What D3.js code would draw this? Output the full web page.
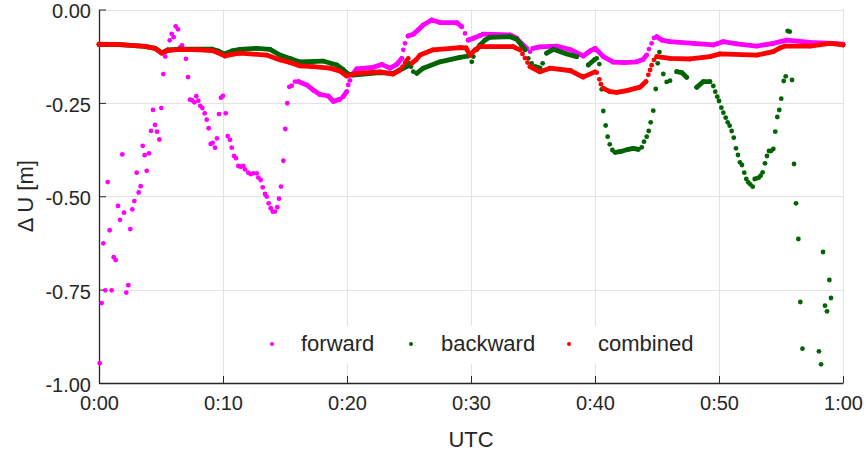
<!DOCTYPE html>
<html>
<head>
<meta charset="utf-8">
<script src="https://cdn.jsdelivr.net/npm/d3@7/dist/d3.min.js"></script>
<style>
  body { margin: 0; background: #fff; }
  svg { display: block; }
  text { font-family: "Liberation Sans", Arial, Helvetica, sans-serif; fill: #262626; }
</style>
</head>
<body>
<svg id="chart" width="866" height="454"></svg>
<script>
// Time axis (minutes after 0:00 UTC) and height difference axis (metres)
const xTicks = [0, 10, 20, 30, 40, 50, 60];
const xTickLabels = ["0:00", "0:10", "0:20", "0:30", "0:40", "0:50", "1:00"];
const yTicks = [0, -0.25, -0.5, -0.75, -1];
const yTickLabels = ["0.00", "-0.25", "-0.50", "-0.75", "-1.00"];

const seriesNames = ["forward", "backward", "combined"];
const seriesColors = ["#ff00ff", "#006400", "#ff0000"];

// [minute, ΔU in m]; null marks an interruption (samples outside the plotted range)
const forward = [
  [0.056,-0.947],[0.218,-0.786],[0.347,-0.626],[0.508,-0.752],[0.702,-0.462],[0.863,-0.591],
  [1.024,-0.752],[1.185,-0.663],[1.347,-0.671],[1.532,-0.526],[1.694,-0.563],[1.879,-0.388],
  [2.016,-0.544],[2.202,-0.758],[2.363,-0.738],[2.524,-0.588],[2.685,-0.535],[2.847,-0.513],
  [3.040,-0.437],[3.202,-0.490],[3.363,-0.473],[3.524,-0.365],[3.685,-0.390],[3.847,-0.432],
  [4.032,-0.385],[4.194,-0.325],[4.355,-0.269],[4.516,-0.309],[4.677,-0.327],[4.863,-0.348],
  [5.024,-0.264],[5.185,-0.173],[5.347,-0.126],[5.508,-0.108],[5.702,-0.0825],[5.863,-0.065],
  [6.024,-0.074],[6.185,-0.045],[6.371,-0.053],[6.532,-0.102],[6.694,-0.096],[7.016,-0.132],
  [7.177,-0.181],[7.339,-0.2415],[7.500,-0.243],[7.685,-0.2485],[7.847,-0.232],[8.008,-0.244],
  [8.169,-0.258],[8.331,-0.264],[8.524,-0.278],[8.685,-0.295],[8.847,-0.318],[9.008,-0.360],
  [9.169,-0.357],[9.355,-0.370],[9.516,-0.345],[9.677,-0.280],[9.839,-0.236],[10.000,-0.231],
  [10.218,-0.278],[10.379,-0.339],[10.565,-0.349],[10.702,-0.370],[10.887,-0.392],[11.048,-0.398],
  [11.234,-0.419],[11.427,-0.421],[11.637,-0.419],[11.774,-0.428],[12.040,-0.437],[12.234,-0.441],
  [12.444,-0.4385],[12.718,-0.4385],[12.847,-0.450],[13.040,-0.4565],[13.202,-0.476],[13.387,-0.494],
  [13.524,-0.501],[13.685,-0.519],[13.847,-0.532],[14.008,-0.541],[14.194,-0.541],[14.379,-0.5295],
  [14.516,-0.5065],[14.677,-0.474],[14.863,-0.405],[15.024,-0.320],[15.185,-0.251],[15.347,-0.207],
  [15.540,-0.204],[15.806,-0.193],[16.073,-0.193],[16.75,-0.202],[17.26,-0.2155],[17.82,-0.2276],
  [18.49,-0.2316],[18.90,-0.246],[19.44,-0.240],[19.68,-0.2335],[19.98,-0.220],[20.10,-0.202],
  [20.24,-0.190],[20.40,-0.175],[20.78,-0.159],[21.45,-0.157],[22.10,-0.155],[22.80,-0.147],
  [23.47,-0.157],[24.01,-0.147],[24.41,-0.131],[24.54,-0.108],[24.68,-0.0905],[24.92,-0.071],
  [25.35,-0.066],[25.73,-0.055],[26.15,-0.0415],[26.83,-0.028],[27.50,-0.035],[28.85,-0.035],
  [29.25,-0.046],[29.52,-0.064],[29.78,-0.082],[30.19,-0.077],[30.73,-0.0696],[30.97,-0.066],
  [33.15,-0.068],[33.69,-0.077],[34.11,-0.092],[34.49,-0.104],[34.76,-0.113],[35.00,-0.104],
  [35.56,-0.100],[36.91,-0.098],[38.06,-0.108],[39.06,-0.1245],[39.60,-0.111],[40.00,-0.104],
  [40.32,-0.114],[40.67,-0.126],[41.48,-0.141],[42.42,-0.142],[43.36,-0.140],[43.87,-0.134],
  [44.17,-0.122],[44.35,-0.106],[44.57,-0.0905],[44.76,-0.076],[44.98,-0.073],[45.40,-0.082],
  [46.05,-0.086],[47.93,-0.0905],[49.54,-0.095],[50.35,-0.086],[51.43,-0.092],[53.04,-0.098],
  [54.38,-0.0905],[55.46,-0.082],[57.34,-0.088],[59.22,-0.0905],[60.00,-0.093]
];

const backward = [
  [0,-0.0937],[1.69,-0.094],[3.71,-0.0985],[4.52,-0.104],[5.06,-0.116],[5.56,-0.108],
  [6.53,-0.106],[8.15,-0.106],[9.11,-0.106],[9.60,-0.111],[10.08,-0.119],[10.73,-0.111],
  [11.37,-0.107],[12.72,-0.104],[13.79,-0.107],[14.60,-0.122],[15.40,-0.131],[16.21,-0.1406],
  [18.06,-0.138],[19.17,-0.1486],[19.68,-0.1606],[20.10,-0.1727],[20.50,-0.1754],[22.66,-0.169],
  [23.73,-0.171],[24.27,-0.162],[24.81,-0.153],[25.02,-0.144],[25.16,-0.153],[25.35,-0.1665],
  [25.62,-0.171],[26.15,-0.157],[27.50,-0.140],[29.11,-0.128],[29.78,-0.1245],[30.06,-0.140],
  [30.19,-0.126],[30.44,-0.108],[30.73,-0.095],[31.13,-0.082],[31.53,-0.0744],[33.15,-0.0728],
  [33.69,-0.0798],[34.03,-0.0937],[34.35,-0.108],[34.62,-0.1307],[34.89,-0.144],[35.16,-0.153],
  [35.56,-0.157],[35.78,-0.144],[36.10,-0.117],[36.64,-0.1066],[37.72,-0.119],[38.52,-0.126],
  [39.46,-0.1486],[40.00,-0.1333],[40.14,-0.1307],[40.35,-0.146],[40.54,-0.2137],[40.67,-0.2718],
  [40.86,-0.3106],[41.02,-0.3406],[41.19,-0.3609],[41.40,-0.3762],[41.61,-0.3823],[42.02,-0.3807],
  [42.69,-0.3743],[43.09,-0.3716],[43.49,-0.3743],[43.77,-0.369],[43.95,-0.354],[44.17,-0.3406],
  [44.33,-0.3253],[44.49,-0.302],[44.70,-0.271],[44.90,-0.2129],[45.06,-0.144],[45.20,-0.114],
  [45.51,-0.1727],[45.78,-0.194],[46.05,-0.1906],[46.59,-0.1665],[46.99,-0.169],[47.39,-0.1815],
  [48.20,-0.2083],[48.73,-0.1933],[49.27,-0.1933],[49.54,-0.2048],[49.70,-0.2201],[49.86,-0.2335],
  [50.00,-0.245],[50.19,-0.2629],[50.35,-0.2763],[50.54,-0.2897],[50.70,-0.302],[50.86,-0.3111],
  [51.02,-0.3253],[51.19,-0.3432],[51.37,-0.3716],[51.53,-0.3896],[51.69,-0.4091],[51.85,-0.4163],
  [52.04,-0.4369],[52.20,-0.4538],[52.36,-0.4627],[52.52,-0.468],[52.72,-0.4744],[52.88,-0.4538],
  [53.04,-0.4519],[53.20,-0.4503],[53.36,-0.445],[53.52,-0.4359],[53.71,-0.4118],[53.87,-0.3922],
  [54.03,-0.3788],[54.19,-0.3788],[54.38,-0.3735],[54.54,-0.3272],[54.70,-0.2878],[54.86,-0.2691],
  [55.02,-0.2388],[55.22,-0.1914],[55.38,-0.1788],[55.54,-0.0576],[55.70,-0.0594],[55.89,-0.1888],
  [56.05,-0.4137],[56.21,-0.5189],[56.40,-0.6145],[56.56,-0.7831],[56.73,-0.9082],null,[58.06,-0.9151],
  [58.23,-0.95],[58.39,-0.6493],[58.55,-0.793],[58.71,-0.808],[58.90,-0.7242],[59.03,-0.7724]
];

const combined = [
  [0,-0.093],[1.69,-0.094],[3.71,-0.099],[4.52,-0.104],[5.06,-0.117],[5.56,-0.110],
  [6.53,-0.107],[8.15,-0.108],[9.11,-0.110],[9.60,-0.116],[10.16,-0.1245],[10.73,-0.120],
  [11.37,-0.117],[13.52,-0.122],[14.60,-0.135],[15.40,-0.142],[16.21,-0.151],[17.26,-0.153],
  [18.63,-0.157],[19.44,-0.165],[19.98,-0.178],[20.78,-0.171],[22.66,-0.167],[23.71,-0.173],
  [24.27,-0.162],[24.48,-0.153],[24.68,-0.143],[24.80,-0.1365],[24.94,-0.131],[25.22,-0.144],
  [25.56,-0.135],[25.89,-0.122],[26.94,-0.108],[29.11,-0.102],[29.60,-0.103],[29.92,-0.122],
  [30.32,-0.108],[30.73,-0.0996],[33.39,-0.0996],[33.95,-0.108],[34.15,-0.119],[34.35,-0.130],
  [34.56,-0.142],[34.76,-0.153],[35.56,-0.167],[36.37,-0.157],[38.06,-0.164],[39.03,-0.181],
  [40.00,-0.167],[40.14,-0.169],[40.35,-0.187],[40.48,-0.200],[40.67,-0.211],[41.21,-0.220],
  [41.75,-0.222],[42.56,-0.217],[43.63,-0.208],[44.11,-0.193],[44.30,-0.175],[44.44,-0.162],
  [44.57,-0.149],[44.76,-0.135],[44.98,-0.126],[46.05,-0.131],[47.66,-0.1325],[49.27,-0.126],
  [50.08,-0.119],[53.04,-0.122],[54.38,-0.113],[54.92,-0.103],[55.32,-0.098],[57.34,-0.098],
  [58.95,-0.0905],[60.00,-0.095]
];

const seriesData = [forward, backward, combined];

const svg = d3.select("#chart");
const plot = { left: 99, right: 843, top: 9.5, bottom: 383 };

const x = d3.scaleLinear().domain([0, 60]).range([plot.left, plot.right]);
const y = d3.scaleLinear().domain([-1, 0]).range([plot.bottom, plot.top]);

// Grid
const grid = svg.append("g").attr("stroke", "#e3e3e3").attr("stroke-width", 1);
grid.selectAll(".gx").data(xTicks.slice(1)).join("line")
  .attr("x1", d => Math.round(x(d)) + 0.5).attr("x2", d => Math.round(x(d)) + 0.5)
  .attr("y1", plot.top).attr("y2", plot.bottom);
grid.selectAll(".gy").data(yTicks.slice(0, -1)).join("line")
  .attr("x1", plot.left).attr("x2", plot.right)
  .attr("y1", d => Math.round(y(d)) + 0.5).attr("y2", d => Math.round(y(d)) + 0.5);

// Axes with inward ticks
const xAxis = d3.axisBottom(x).tickValues(xTicks).tickSizeInner(-7).tickSizeOuter(0)
  .tickFormat((d, i) => xTickLabels[i]).tickPadding(0);
const gx = svg.append("g").attr("transform", `translate(0,${plot.bottom})`).call(xAxis);
gx.select(".domain").attr("stroke", "#262626").attr("stroke-width", 1.3);
gx.selectAll(".tick line").attr("stroke", "#262626");
gx.selectAll(".tick text").attr("font-size", 20).attr("fill", "#262626")
  .attr("y", 27).attr("dy", null).style("font-family", "'Liberation Sans', Arial, sans-serif");

const yAxis = d3.axisLeft(y).tickValues(yTicks).tickSizeInner(-7).tickSizeOuter(0)
  .tickFormat((d, i) => yTickLabels[i]).tickPadding(0);
const gy = svg.append("g").attr("transform", `translate(${plot.left},0)`).call(yAxis);
gy.select(".domain").attr("stroke", "#262626").attr("stroke-width", 1.3);
gy.selectAll(".tick line").attr("stroke", "#262626");
gy.selectAll(".tick text").attr("font-size", 20).attr("fill", "#262626")
  .attr("x", -8).attr("dy", "0.42em").style("font-family", "'Liberation Sans', Arial, sans-serif");

// Axis titles
svg.append("text").attr("x", (plot.left + plot.right) / 2).attr("y", 447)
  .attr("text-anchor", "middle").attr("font-size", 22).text("UTC");
svg.append("text").attr("transform", `translate(33,${(plot.top + plot.bottom) / 2}) rotate(-90)`)
  .attr("text-anchor", "middle").attr("font-size", 22).text("Δ U [m]");

// Series: every sample is a dot; widely spaced readings along a smooth stretch are
// joined so dense stretches read as a continuous trace, while closely spaced
// scattered samples and steep jumps stay as separate dots.
const r = 2.4;
seriesData.forEach((data, si) => {
  const g = svg.append("g").attr("fill", seriesColors[si]).attr("stroke", seriesColors[si]);
  const runs = [];
  let cur = [];
  let prev = null;
  data.forEach(d => {
    if (d === null) { if (cur.length) runs.push(cur); cur = []; prev = null; return; }
    const p = [x(d[0]), y(d[1])];
    if (prev && (Math.abs(p[1] - prev[1]) > 8 || p[0] - prev[0] < 3.5)) { runs.push(cur); cur = []; }
    cur.push(p);
    prev = p;
  });
  if (cur.length) runs.push(cur);
  const pts = runs.flat();
  g.selectAll("path").data(runs.filter(rn => rn.length > 1)).join("path")
    .attr("d", d3.line()).attr("fill", "none").attr("stroke-width", 2 * r)
    .attr("stroke-linecap", "round").attr("stroke-linejoin", "round");
  g.selectAll("circle").data(pts).join("circle")
    .attr("cx", d => d[0]).attr("cy", d => d[1]).attr("r", r).attr("stroke", "none");
});

// Legend
const legend = svg.append("g");
legend.append("rect").attr("x", 256).attr("y", 326).attr("width", 452).attr("height", 38).attr("fill", "#fff");
const legendMarkX = [272, 411, 569];
const legendTextX = [301, 441, 598];
seriesNames.forEach((name, i) => {
  legend.append("circle").attr("cx", legendMarkX[i]).attr("cy", 344).attr("r", 2).attr("fill", seriesColors[i]);
  legend.append("text").attr("x", legendTextX[i]).attr("y", 351).attr("font-size", 22).text(name);
});
</script>
</body>
</html>
